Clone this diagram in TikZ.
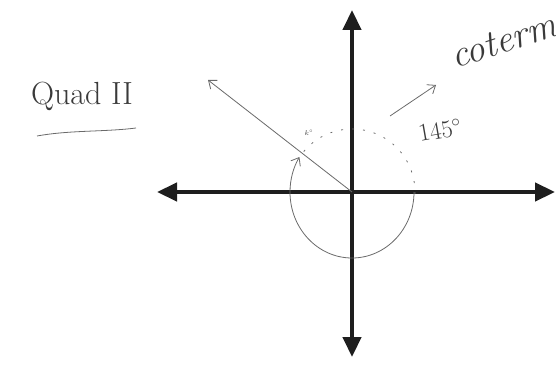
\documentclass[tikz,border=0pt]{standalone}
\usepackage{tikz}
\usetikzlibrary{arrows.meta, positioning}
\definecolor{pencil}{HTML}{6A6A6A}
\definecolor{ink}{HTML}{3A3A3A}
\definecolor{marker}{HTML}{1E1E1E}

\begin{document}
\begin{tikzpicture}[
  x=1pt, y=1pt,
  axis/.style={{Triangle[length=20pt, width=18pt]}-{Triangle[length=20pt, width=18pt]}, line width=4.5pt, draw=marker},
  hand/.style={draw=pencil, line width=0.8pt},
  barb/.style={-{Straight Barb[length=7pt, width=11pt]}},
  note/.style={text=ink}
]
  \useasboundingbox (0,0) rectangle (556,370);
  \coordinate (O) at (352,178);
  \coordinate (west) at (157,178);
  \coordinate (east) at (555,178);
  \coordinate (north) at (352,360);
  \coordinate (south) at (352,13);
  \coordinate (ray) at (208,290);
  \coordinate (tail) at (390,254);
  \coordinate (head) at (436,285);

  \draw[axis] (west) -- (east);
  \draw[axis] (south) -- (north);

  \draw[hand, barb] (O) -- (ray);
  \draw[hand, dash pattern=on 2pt off 9pt] ([shift={(140:63)}]O) arc[start angle=140, end angle=-8, radius=63];
  \draw[hand, barb] ([shift={(0:62)}]O) arc[start angle=0, end angle=-212, x radius=62, y radius=66];
  \draw[hand, barb] (tail) -- (head);

  \node[note, font=\fontsize{32}{32}\selectfont] (quad) at (82,274) {Quad II};
  \draw[hand] (37,234) .. controls (70,240) and (105,238) .. (136,242);
  \node[note, rotate=10, font=\fontsize{26}{26}\selectfont] (angle) at (440,240) {$145^\circ$};
  \node[note, rotate=18, anchor=base west, font=\itshape\fontsize{38}{38}\selectfont] (coterm) at (452,300) {coterm};
  \node[note, font=\scriptsize] (k) at (309,237) {$k^\circ$};
\end{tikzpicture}
\end{document}
